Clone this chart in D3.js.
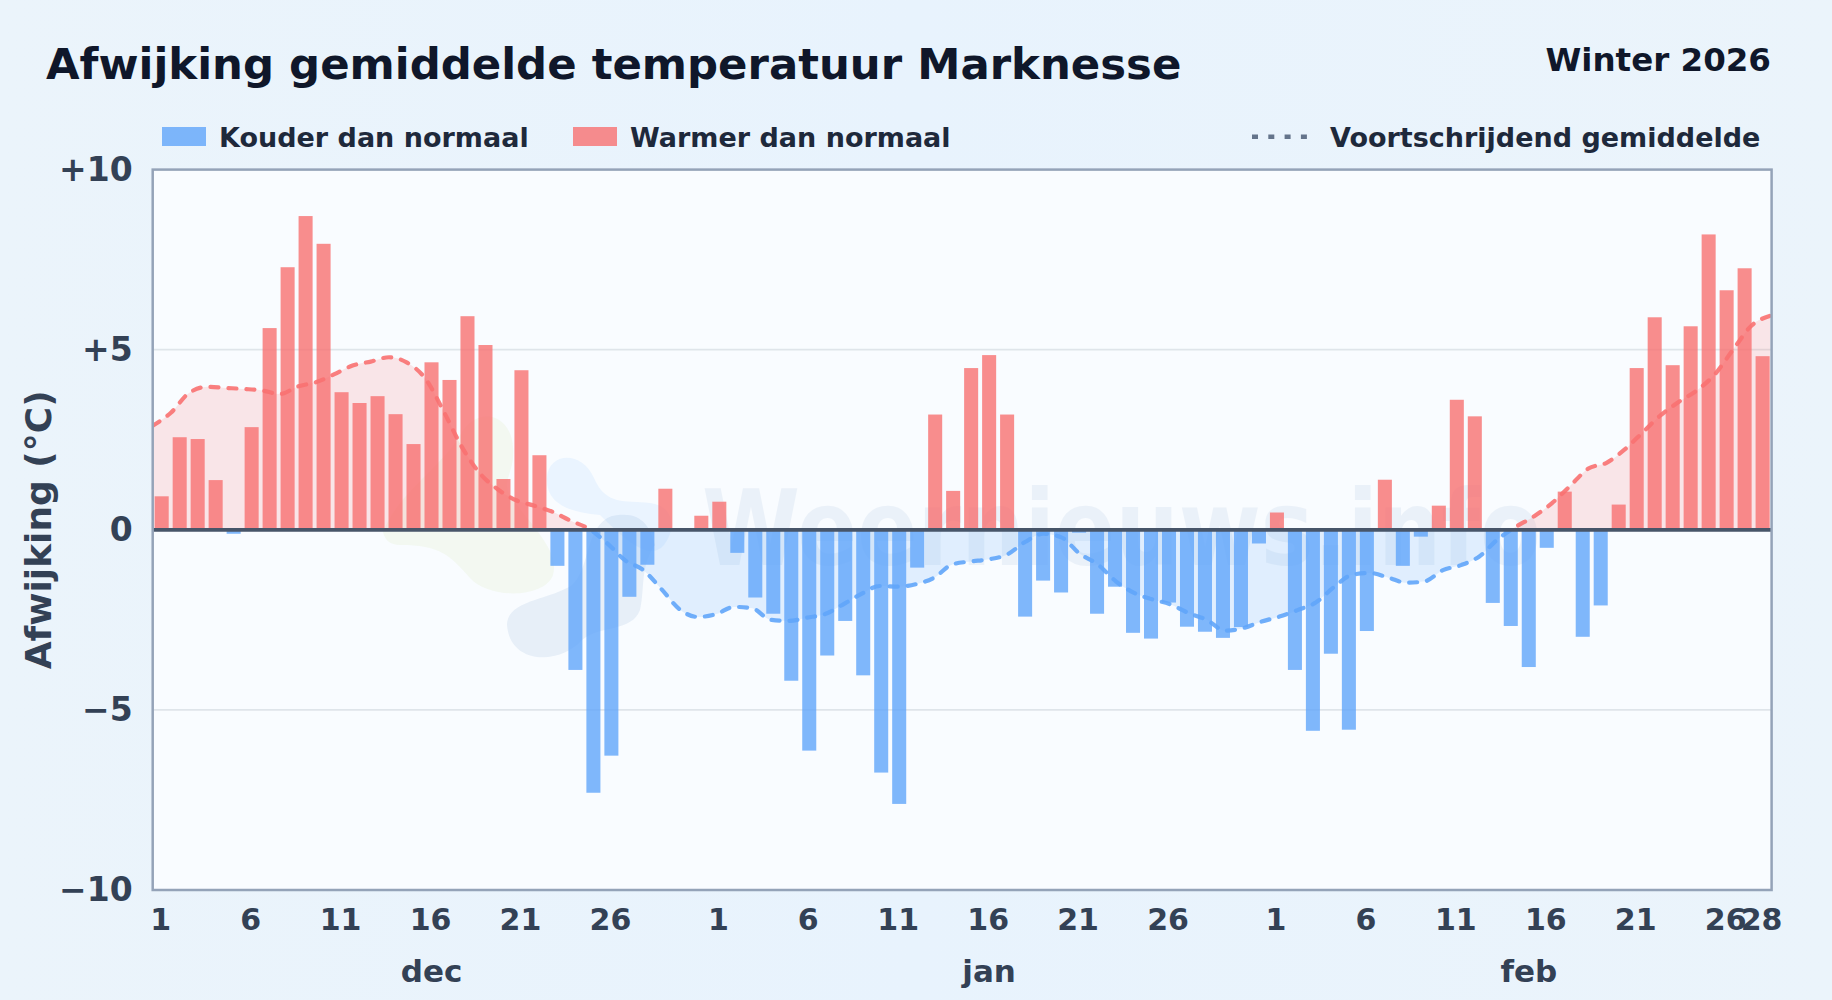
<!DOCTYPE html>
<html>
<head>
<meta charset="utf-8">
<script src="https://cdn.jsdelivr.net/npm/d3@7"></script>
<style>
  html, body { margin: 0; padding: 0; background: #e9f3fc; }
  svg { display: block; font-family: "DejaVu Sans", sans-serif; font-weight: bold; }
  .axis text { fill: #334155; font-family: "DejaVu Sans", sans-serif; }
  .axis path, .axis line { display: none; }
</style>
</head>
<body>
<div class="chart"></div>
<script>
// daily deviation from normal
const decValues = [0.93, 2.57, 2.52, 1.38, -0.11, 2.85, 5.6, 7.29, 8.71, 7.94, 3.82, 3.52, 3.71, 3.21, 2.38, 4.65,
  4.16, 5.93, 5.13, 1.41, 4.43, 2.07, -1.0, -3.89, -7.3, -6.27, -1.86, -0.97, 1.14, 0, 0.39];
const janValues = [0.78, -0.64, -1.88, -2.33, -4.19, -6.13, -3.49, -2.53, -4.04, -6.74, -7.61, -1.05, 3.2, 1.08, 4.49, 4.85,
  3.2, -2.41, -1.41, -1.74, -0.08, -2.33, -1.58, -2.86, -3.02, -2.02, -2.69, -2.83, -3.0, -2.7, -0.38];
const febValues = [0.48, -3.89, -5.58, -3.44, -5.55, -2.81, 1.39, -1.0, -0.19, 0.67, 3.61, 3.15, -2.03, -2.67, -3.81, -0.5,
  1.06, -2.97, -2.1, 0.7, 4.49, 5.9, 4.57, 5.65, 8.2, 6.65, 7.26, 4.82];

// voortschrijdend gemiddelde, one value per day
const movingAvg = [2.89, 3.25, 3.8, 3.97, 3.94, 3.91, 3.87, 3.77, 3.98, 4.1, 4.32, 4.56, 4.67, 4.79, 4.64, 4.2,
  3.3, 2.31, 1.57, 1.12, 0.82, 0.67, 0.5, 0.25, 0.03, -0.37, -0.85, -1.12, -1.65, -2.21, -2.42,
  -2.34, -2.14, -2.18, -2.5, -2.53, -2.44, -2.34, -2.07, -1.78, -1.56, -1.58, -1.51, -1.33, -0.96, -0.88, -0.82,
  -0.69, -0.34, -0.11, -0.21, -0.66, -0.96, -1.43, -1.75, -1.93, -2.07, -2.31, -2.5, -2.8, -2.73, -2.55,
  -2.41, -2.23, -2.02, -1.59, -1.25, -1.2, -1.33, -1.47, -1.43, -1.12, -0.98, -0.74, -0.27, 0.08, 0.37,
  0.74, 1.22, 1.7, 1.86, 2.23, 2.71, 3.19, 3.56, 3.88, 4.34, 5.03, 5.68, 5.94];

const yTicks = [10, 5, 0, -5, -10];
const yTickLabels = ['+10', '+5', '0', '\u22125', '\u221210'];
const decTicks = [1, 6, 11, 16, 21, 26];
const janTicks = [1, 6, 11, 16, 21, 26];
const febTicks = [1, 6, 11, 16, 21, 26, 28];
const months = ['dec', 'jan', 'feb'];
const monthLabelDay = [16, 16, 15];
const monthLengths = [decValues.length, janValues.length, febValues.length];

const values = decValues.concat(janValues, febValues);

const width = 1832;
const height = 1000;
const plotLeft = 152.7, plotRight = 1771.6, plotTop = 169.6, plotBottom = 890;

const plot = d3.select('.chart').append('svg')
  .attr('width', width)
  .attr('height', height);

const defs = plot.append('defs');
const bgGrad = defs.append('linearGradient').attr('id', 'bg');
bgGrad.append('stop').attr('offset', '0').attr('stop-color', '#ebf4fb');
bgGrad.append('stop').attr('offset', '0.5').attr('stop-color', '#e8f3fd');
bgGrad.append('stop').attr('offset', '1').attr('stop-color', '#ebf4fb');

plot.append('rect')
  .attr('width', width)
  .attr('height', height)
  .style('fill', 'url(#bg)');

const x = d3.scaleBand()
  .domain(d3.range(values.length))
  .range([plotLeft, plotRight])
  .paddingInner(0.22)
  .paddingOuter(0.11);

// the average runs from edge to edge of the plot
const xLine = d3.scalePoint()
  .domain(d3.range(values.length))
  .range([plotLeft, plotRight - 1.5]);

const y = d3.scaleLinear()
  .domain([-10, 10])
  .range([plotBottom, plotTop]);

const zeroY = y(0);

plot.append('rect')
  .attr('x', plotLeft)
  .attr('y', plotTop)
  .attr('width', plotRight - plotLeft)
  .attr('height', plotBottom - plotTop)
  .style('fill', '#f9fcff');

// watermark, sits under everything else
const mark = plot.append('g');
mark.append('path')
  .attr('d', 'M383,532 C400,490 440,470 462,432 C475,410 505,410 512,440 C518,470 500,480 510,495 C530,525 560,550 553,575 C545,598 490,600 470,578 C450,555 440,545 400,545 C390,545 385,540 383,532 Z')
  .style('fill', '#d4e8a8').style('opacity', 0.16);
mark.append('path')
  .attr('d', 'M547,478 C548,452 582,450 594,478 C606,506 625,500 650,503 C675,506 676,530 664,545 C650,562 625,540 600,515 C570,512 546,505 547,478 Z')
  .style('fill', '#93c5fd').style('opacity', 0.14);
mark.append('path')
  .attr('d', 'M507,625 C507,600 550,600 572,585 C590,570 585,525 612,516 C640,510 650,525 655,545 C640,565 645,590 640,610 C632,632 600,625 582,640 C560,665 510,665 507,625 Z')
  .style('fill', '#3b6fb0').style('opacity', 0.09);
mark.append('text')
  .attr('x', 702)
  .attr('y', 565)
  .attr('font-size', 105)
  .attr('textLength', 839)
  .attr('lengthAdjust', 'spacingAndGlyphs')
  .style('fill', '#3b6fb0')
  .style('opacity', 0.07)
  .text('Weernieuws.info');

// grid lines at +5 and -5
plot.append('g').selectAll('line')
  .data(yTicks.filter(d => Math.abs(d) === 5))
  .join('line')
  .attr('x1', plotLeft)
  .attr('x2', plotRight)
  .attr('y1', d => y(d))
  .attr('y2', d => y(d))
  .style('stroke', '#dfe5ea')
  .style('stroke-width', 1.8);

// clip the average into a warm part and a cold part
defs.append('clipPath').attr('id', 'above').append('rect')
  .attr('x', plotLeft).attr('y', plotTop).attr('width', plotRight - plotLeft).attr('height', zeroY - plotTop);
defs.append('clipPath').attr('id', 'below').append('rect')
  .attr('x', plotLeft).attr('y', zeroY).attr('width', plotRight - plotLeft).attr('height', plotBottom - zeroY);

const avgArea = d3.area()
  .x((d, i) => xLine(i))
  .y0(zeroY)
  .y1(d => y(d))
  .curve(d3.curveMonotoneX);

const avgLine = d3.line()
  .x((d, i) => xLine(i))
  .y(d => y(d))
  .curve(d3.curveMonotoneX);

const sides = [
  { clip: 'above', color: '#f87171' },
  { clip: 'below', color: '#60a5fa' }
];

sides.forEach(s => {
  plot.append('path')
    .attr('d', avgArea(movingAvg))
    .attr('clip-path', `url(#${s.clip})`)
    .style('fill', s.color)
    .style('opacity', 0.16);
});

// bars
plot.append('g').selectAll('rect')
  .data(values)
  .join('rect')
  .attr('x', (d, i) => x(i))
  .attr('y', d => y(Math.max(d, 0)))
  .attr('width', x.bandwidth())
  .attr('height', d => Math.abs(y(d) - zeroY))
  .style('fill', d => d >= 0 ? '#f87171' : '#60a5fa')
  .style('opacity', 0.8);

sides.forEach(s => {
  plot.append('path')
    .attr('d', avgLine(movingAvg))
    .attr('clip-path', `url(#${s.clip})`)
    .style('fill', 'none')
    .style('stroke', s.color)
    .style('stroke-width', 4.2)
    .style('stroke-linecap', 'round')
    .style('stroke-dasharray', '8 10')
    .style('opacity', 0.9);
});

// zero line and frame
plot.append('line')
  .attr('x1', plotLeft)
  .attr('x2', plotRight)
  .attr('y1', zeroY)
  .attr('y2', zeroY)
  .style('stroke', '#475569')
  .style('stroke-width', 3.8);

plot.append('rect')
  .attr('x', plotLeft)
  .attr('y', plotTop)
  .attr('width', plotRight - plotLeft)
  .attr('height', plotBottom - plotTop)
  .style('fill', 'none')
  .style('stroke', '#94a3b8')
  .style('stroke-width', 2.5);

// y axis
plot.append('g')
  .attr('class', 'axis')
  .attr('transform', `translate(${plotLeft - 2},0)`)
  .call(d3.axisLeft(y)
    .tickValues(yTicks)
    .tickSize(0)
    .tickPadding(18)
    .tickFormat((d, i) => yTickLabels[i]))
  .selectAll('text')
  .style('font-size', '33px');

// x axis: tick labels per month, on the middle of the day's bar
let offset = 0;
const dayTicks = [];
[decTicks, janTicks, febTicks].forEach((ticks, m) => {
  ticks.forEach(t => dayTicks.push({ index: offset + t - 1, label: t }));
  offset += monthLengths[m];
});
const tickLabelByIndex = new Map(dayTicks.map(d => [d.index, d.label]));

plot.append('g')
  .attr('class', 'axis')
  .attr('transform', `translate(-1,${plotBottom})`)
  .call(d3.axisBottom(x)
    .tickValues(dayTicks.map(d => d.index))
    .tickSize(0)
    .tickPadding(19)
    .tickFormat(d => tickLabelByIndex.get(d)))
  .selectAll('text')
  .style('font-size', '30px');

const monthStart = d3.cumsum([0].concat(monthLengths));
plot.append('g').selectAll('text')
  .data(months)
  .join('text')
  .attr('x', (d, i) => x(monthStart[i] + monthLabelDay[i] - 1) + x.bandwidth() / 2)
  .attr('y', 982)
  .attr('text-anchor', 'middle')
  .attr('font-size', 31)
  .style('fill', '#334155')
  .text(d => d);

// titles
plot.append('text')
  .attr('x', 46)
  .attr('y', 79)
  .attr('font-size', 43.4)
  .style('fill', '#0f172a')
  .text('Afwijking gemiddelde temperatuur Marknesse');

plot.append('text')
  .attr('x', 1771)
  .attr('y', 71)
  .attr('text-anchor', 'end')
  .attr('font-size', 32.5)
  .style('fill', '#0f172a')
  .text('Winter 2026');

plot.append('text')
  .attr('transform', `translate(51,${zeroY}) rotate(-90)`)
  .attr('text-anchor', 'middle')
  .attr('font-size', 36)
  .style('fill', '#334155')
  .text('Afwijking (\u00b0C)');

// legend
const legendItems = [
  { label: 'Kouder dan normaal', color: '#60a5fa', sx: 162, tx: 219 },
  { label: 'Warmer dan normaal', color: '#f87171', sx: 573, tx: 630 }
];

legendItems.forEach(d => {
  plot.append('rect')
    .attr('x', d.sx)
    .attr('y', 127)
    .attr('width', 44)
    .attr('height', 19)
    .style('fill', d.color)
    .style('opacity', 0.8);
  plot.append('text')
    .attr('x', d.tx)
    .attr('y', 146.5)
    .attr('font-size', 27)
    .style('fill', '#1e293b')
    .text(d.label);
});

plot.append('line')
  .attr('x1', 1252)
  .attr('x2', 1308)
  .attr('y1', 136.8)
  .attr('y2', 136.8)
  .style('stroke', '#64748b')
  .style('stroke-width', 4.5)
  .style('stroke-dasharray', '6 10.3');

plot.append('text')
  .attr('x', 1330)
  .attr('y', 146.5)
  .attr('font-size', 27)
  .style('fill', '#1e293b')
  .text('Voortschrijdend gemiddelde');
</script>
</body>
</html>
